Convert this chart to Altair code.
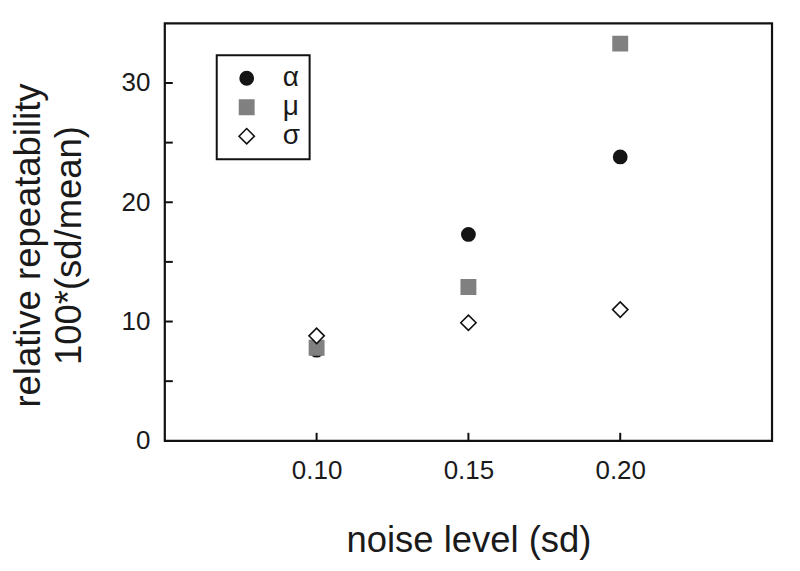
import altair as alt
import pandas as pd

noise = [0.10, 0.15, 0.20]
series_names = ["α", "μ", "σ"]
alpha_vals = [7.6, 17.3, 23.8]
mu_vals = [7.8, 12.9, 33.3]
sigma_vals = [8.8, 9.9, 11.0]

y_tick_vals = [5, 10, 15, 20, 25, 30]
y_label_vals = [0, 10, 20, 30]
x_tick_vals = [0.10, 0.15, 0.20]

rows = []
for name, vals in zip(series_names, [alpha_vals, mu_vals, sigma_vals]):
    for x, v in zip(noise, vals):
        rows.append({"noise": x, "value": v, "param": name})
df = pd.DataFrame(rows)

W, H = 608, 418
FONT = "Liberation Sans"
TXT = "#1a1a1a"

xscale = alt.Scale(domain=[0.05, 0.25], nice=False, zero=False)
yscale = alt.Scale(domain=[0, 35], nice=False)

leg = alt.Legend(orient="none", legendX=52, legendY=32, title=None,
                 labelExpr="datum.label + '\u00a0\u00a0'")

points = alt.Chart(df).mark_point(filled=False, opacity=1, strokeWidth=1.6).encode(
    x=alt.X("noise:Q", scale=xscale,
            axis=alt.Axis(values=x_tick_vals, format=".2f", ticks=False, tickSize=0, domain=False,
                          grid=False, labelFontSize=26, labelPadding=38, labelBaseline="alphabetic",
                          labelColor=TXT, labelFont=FONT,
                          title="noise level (sd)", titleFont=FONT,
                          titleFontSize=36.5, titleFontWeight="normal", titleColor=TXT,
                          titleX=W / 2, titleY=111, titleAlign="center",
                          titleBaseline="alphabetic")),
    y=alt.Y("value:Q", scale=yscale,
            axis=alt.Axis(values=y_label_vals, ticks=False, tickSize=0, domain=False, grid=False,
                          labelFontSize=26, labelPadding=15, labelColor=TXT, labelFont=FONT,
                          labelBaseline="middle",
                          title=["relative repeatability", "100*(sd/mean)"], titleFont=FONT,
                          titleFontSize=36.5, titleFontWeight="normal", titleColor=TXT,
                          titleLineHeight=41, titleX=-125, titleY=222, titleAngle=-90,
                          titleAlign="center", titleBaseline="alphabetic")),
    shape=alt.Shape("param:N", scale=alt.Scale(domain=series_names, range=["circle", "square", "diamond"]), legend=leg),
    fill=alt.Fill("param:N", scale=alt.Scale(domain=series_names, range=["#151515", "#808080", "#ffffff"]), legend=leg),
    stroke=alt.Stroke("param:N", scale=alt.Scale(domain=series_names, range=["#151515", "#808080", "#111111"]), legend=leg),
    size=alt.Size("param:N", scale=alt.Scale(domain=series_names, range=[175, 235, 190]), legend=leg),
)

ytick_df = pd.DataFrame({"t": y_tick_vals})
yticks = alt.Chart(ytick_df).mark_rule(color="#111", strokeWidth=2).encode(
    y=alt.Y("t:Q", scale=yscale), x=alt.value(0), x2=alt.value(8)
)
xtick_df = pd.DataFrame({"t": x_tick_vals})
xticks = alt.Chart(xtick_df).mark_rule(color="#111", strokeWidth=2).encode(
    x=alt.X("t:Q", scale=xscale), y=alt.value(H), y2=alt.value(H - 8)
)

chart = alt.layer(points, yticks, xticks).properties(
    width=W, height=H,
    autosize="none",
    padding={"left": 157, "top": 15, "right": 20, "bottom": 130},
).configure(
    font=FONT,
    view=alt.ViewConfig(stroke="#111", strokeWidth=2.2),
    legend=alt.LegendConfig(
        strokeColor="#111", strokeWidth=2, padding=9,
        labelFont=FONT, labelFontSize=28, labelColor=TXT,
        labelOffset=22, symbolOffset=7, rowPadding=1,
        symbolStrokeWidth=1.6,
    ),
)

chart.save("out.html", embed_options={"renderer": "svg", "actions": False})
